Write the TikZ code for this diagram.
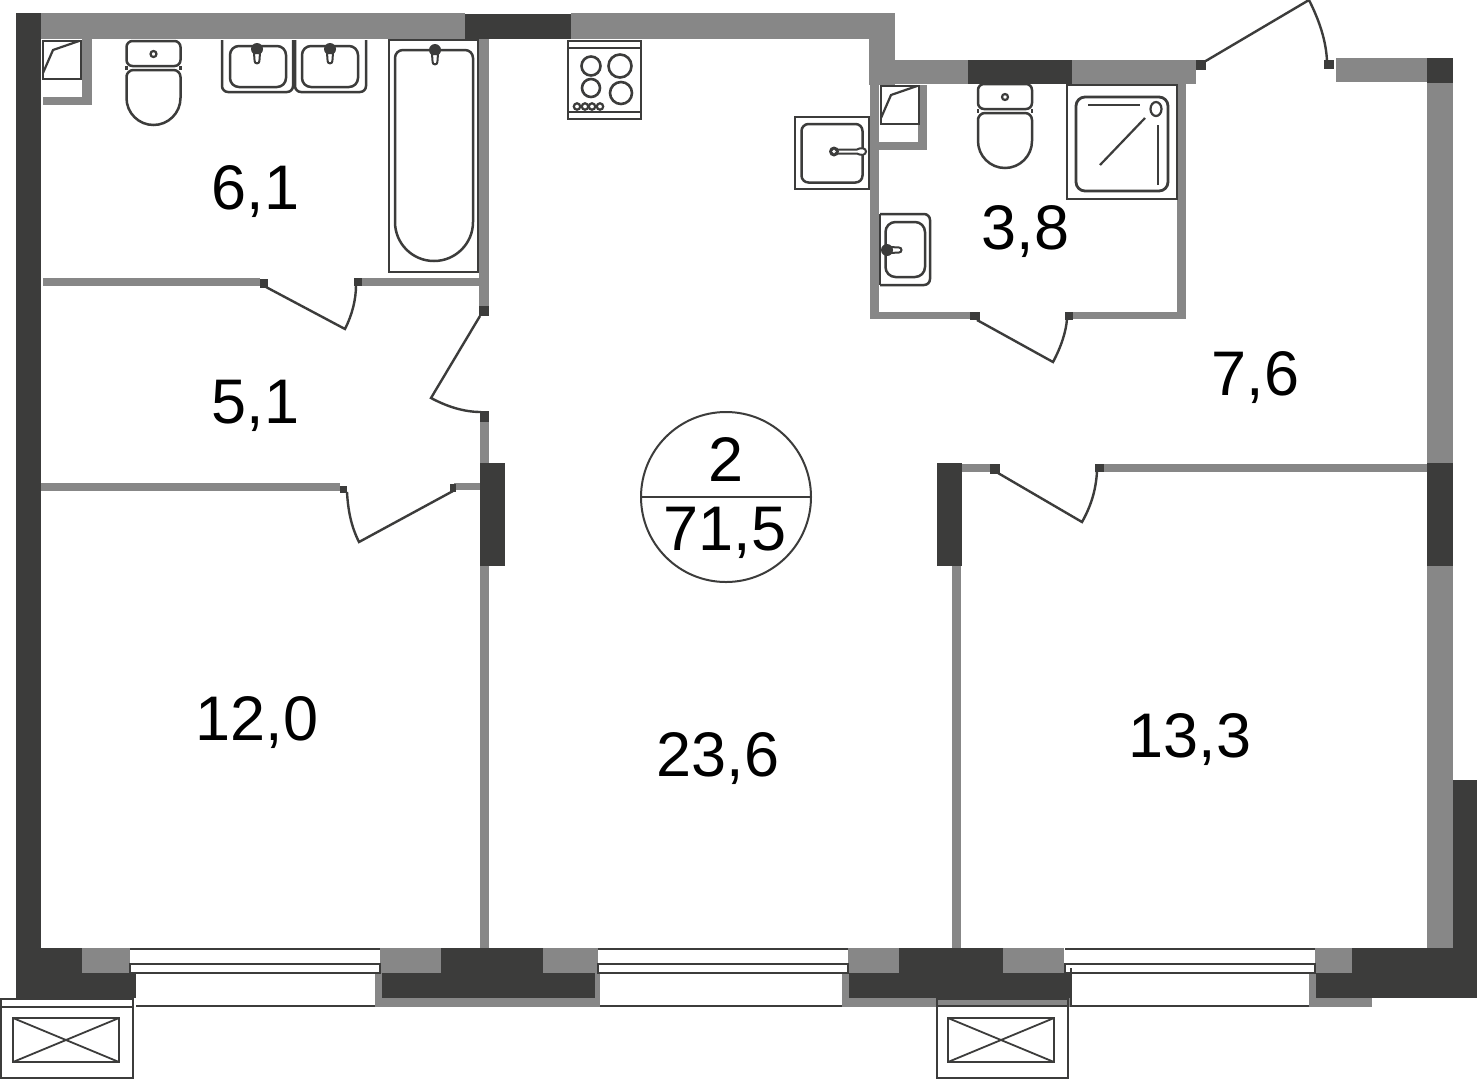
\documentclass[tikz,border=0pt]{standalone}
\usepackage{fontspec}
\setmainfont{Liberation Sans}
\definecolor{wg}{HTML}{878787}
\definecolor{wd}{HTML}{3C3C3B}
\tikzset{
  gw/.style={fill=wg,draw=none},
  dw/.style={fill=wd,draw=none},
  ln/.style={draw=wd,line width=2.5pt,fill=white,line join=miter},
  thin ln/.style={draw=wd,line width=2.2pt},
  door/.style={draw=wd,line width=2.4pt,fill=none,line join=miter},
  area/.style={font=\fontsize{63}{63}\selectfont,text=black,inner sep=0pt,anchor=base},
  toiletpic/.pic={
    \draw[ln,rounded corners=6pt] (-27,0) rectangle (27,25);
    \draw[ln] (-27,34) [rounded corners=7pt] -- (-27,29) -- (27,29) [sharp corners] -- (27,57) arc[start angle=0,end angle=180,radius=27] -- cycle;
    \draw[thin ln] (-27,25) -- (-27,29) (27,25) -- (27,29);
    \draw[thin ln] (0,13) circle[radius=3];
  },
  tappic/.pic={
    \fill[wd] (0,7) circle[radius=6];
    \draw[draw=wd,line width=2pt,fill=white] (-3,11) -- (-2.4,19) arc[start angle=180,end angle=0,radius=2.4] -- (3,11) -- cycle;
  },
  ventpic/.pic={
    \draw[ln,fill=none,line width=2.2pt] (0,0) rectangle (106,44);
    \draw[thin ln,line width=1.8pt] (0,0) -- (106,44) (0,44) -- (106,0);
  },
  closetpic/.pic={
    \draw[thin ln,fill=white] (0,0) -- (38,0) -- (38,38) -- (0,38) -- cycle;
    \draw[thin ln] (36,0) -- (10,9) -- (0,32);
  },
  windowpic/.pic={
    \draw[draw=wd,line width=2pt] (0,1) -- (250,1);
    \draw[ln,line width=2.2pt] (0,16) rectangle (250,25);
  },
}
\begin{document}
\begin{tikzpicture}[x=1pt,y=-1pt]
\useasboundingbox (0,0) rectangle (1477,1080);
\fill[white] (0,0) rectangle (1477,1080);

% --- exterior and partition walls, gray
\fill[gw] (41,13) rectangle (465,39);
\fill[gw] (571,13) rectangle (895,39);
\fill[gw] (869,13) rectangle (895,85);
\fill[gw] (869,60) rectangle (968,84);
\fill[gw] (1072,60) rectangle (1196,84);
\fill[gw] (870,84) rectangle (879,319);
\fill[gw] (1177,84) rectangle (1186,319);
\fill[gw] (870,312) rectangle (971,319);
\fill[gw] (1073,312) rectangle (1186,319);
\fill[gw] (1336,58) rectangle (1427,82);
\fill[gw] (1427,83) rectangle (1453,463);
\fill[gw] (1427,566) rectangle (1453,948);
\fill[gw] (479,39) rectangle (489,306);
\fill[gw] (480,421) rectangle (489,463);
\fill[gw] (480,566) rectangle (489,948);
\fill[gw] (43,278) rectangle (260,286);
\fill[gw] (362,278) rectangle (481,286);
\fill[gw] (41,483) rectangle (340,491);
\fill[gw] (454,483) rectangle (480,490);
\fill[gw] (962,464) rectangle (990,472);
\fill[gw] (1104,464) rectangle (1427,472);
\fill[gw] (952,566) rectangle (961,948);
% closets
\fill[gw] (82,39) rectangle (92,105);
\fill[gw] (43,97) rectangle (92,105);
\fill[gw] (918,85) rectangle (927,150);
\fill[gw] (879,142) rectangle (927,150);
% lower gray blocks
\fill[gw] (375,973) rectangle (600,1007);
\fill[gw] (842,973) rectangle (1072,1007);
\fill[gw] (1309,973) rectangle (1372,1007);
% gray blocks along the facade
\fill[gw] (82,948) rectangle (130,973);
\fill[gw] (380,948) rectangle (441,973);
\fill[gw] (543,948) rectangle (598,973);
\fill[gw] (848,948) rectangle (899,973);
\fill[gw] (1003,948) rectangle (1064,973);
\fill[gw] (1315,948) rectangle (1352,973);

% --- dark structural walls
\fill[dw] (16,13) rectangle (41,973);
\fill[dw] (465,14) rectangle (571,39);
\fill[dw] (968,60) rectangle (1072,84);
\fill[dw] (1427,58) rectangle (1453,83);
\fill[dw] (1427,463) rectangle (1453,566);
\fill[dw] (1453,780) rectangle (1477,998);
\fill[dw] (480,463) rectangle (505,566);
\fill[dw] (937,463) rectangle (962,566);
\fill[dw] (16,948) rectangle (82,973);
\fill[dw] (16,973) rectangle (136,998);
\fill[dw] (441,948) rectangle (543,973);
\fill[dw] (382,973) rectangle (595,998);
\fill[dw] (899,948) rectangle (1003,973);
\fill[dw] (849,973) rectangle (1071,998);
\fill[dw] (1352,948) rectangle (1453,973);
\fill[dw] (1316,973) rectangle (1477,998);

% --- windows
\pic at (130,948) {windowpic};
\pic at (598,948) {windowpic};
\pic at (1065,948) {windowpic};
\draw[draw=wd,line width=2pt] (136,1006) -- (375,1006);
\draw[draw=wd,line width=2pt] (600,1006) -- (842,1006);
\draw[draw=wd,line width=2pt] (1072,1006) -- (1309,1006);
\draw[draw=wd,line width=1.2pt] (1071,968) -- (1071,1007);

% --- balcony units
\draw[ln,fill=none,line width=1.8pt] (1,999) rectangle (133,1078);
\draw[draw=wd,line width=2pt] (1,1007) -- (133,1007);
\pic at (13,1018) {ventpic};
\draw[ln,fill=none,line width=1.8pt] (937,999) rectangle (1068,1078);
\draw[draw=wd,line width=2pt] (937,1006) -- (1068,1006);
\pic at (948,1018) {ventpic};

% --- doors
\fill[dw] (260,279) rectangle (268,288);
\fill[dw] (354,278) rectangle (362,286);
\draw[door] (266,287) -- (345,329) .. controls (352,315) and (356,300) .. (356,285);
\fill[dw] (479,306) rectangle (489,316);
\fill[dw] (480,411) rectangle (489,422);
\draw[door] (480,316) -- (431,398) .. controls (446,406) and (463,412) .. (481,412);
\fill[dw] (340,486) rectangle (347,493);
\fill[dw] (450,484) rectangle (456,492);
\draw[door] (347,492) .. controls (348,510) and (351,526) .. (359,542) -- (453,491);
\fill[dw] (990,464) rectangle (1000,474);
\fill[dw] (1095,464) rectangle (1104,472);
\draw[door] (998,473) -- (1082,522) .. controls (1091,506) and (1096,490) .. (1097,471);
\fill[dw] (970,312) rectangle (980,320);
\fill[dw] (1065,312) rectangle (1073,320);
\draw[door] (977,320) -- (1053,362) .. controls (1061,347) and (1066,332) .. (1067,319);
\fill[dw] (1196,60) rectangle (1206,70);
\fill[dw] (1324,60) rectangle (1334,69);
\draw[door] (1204,62) -- (1309,0) .. controls (1319,20) and (1326,40) .. (1327,61);

% --- bathroom fixtures, left
\pic at (43,41) {closetpic};
\pic at (153.5,41) {toiletpic};
\draw[ln,rounded corners=6pt] (222,40) -- (222,92) -- (293,92) -- (293,40);
\draw[ln,rounded corners=9pt] (230,46) rectangle (286,87);
\pic at (257,42) {tappic};
\draw[ln,rounded corners=6pt] (295,40) -- (295,92) -- (366,92) -- (366,40);
\draw[ln,rounded corners=9pt] (302,46) rectangle (358,87);
\pic at (330,42) {tappic};
\draw[ln] (389,40) rectangle (478,272);
\draw[ln] (395,60) [rounded corners=8pt] -- (395,50) -- (473,50) [sharp corners] -- (473,222) arc[start angle=0,end angle=180,radius=39] -- cycle;
\pic at (435,43) {tappic};

% --- stove
\draw[ln] (568,41) rectangle (641,119);
\draw[thin ln] (568,48) -- (641,48);
\draw[thin ln] (568,112) -- (641,112);
\draw[thin ln,line width=2.6pt] (591,66) circle[radius=9.5];
\draw[thin ln,line width=2.6pt] (620,66) circle[radius=11.5];
\draw[thin ln,line width=2.6pt] (591,88) circle[radius=9];
\draw[thin ln,line width=2.6pt] (621,93) circle[radius=11];
\foreach \cx in {577,585,592,600} {\draw[thin ln,fill=white] (\cx,106.5) circle[radius=3.2];}

% --- bathroom fixtures, right
\pic at (881,86) {closetpic};
\draw[ln] (795,117) rectangle (869,189);
\draw[ln,rounded corners=7pt] (801.5,124) rectangle (862.5,182.5);
\draw[draw=wd,line width=2pt,fill=white] (836,149.5) -- (857,149.5) .. controls (861,147) and (866,148) .. (866,151.5) .. controls (866,155) and (861,156) .. (857,153.5) -- (836,153.5) -- cycle;
\fill[wd] (834,151.5) circle[radius=5];
\draw[draw=white,line width=1pt,fill=none] (834,151.5) circle[radius=1.2];
\pic at (1005,84) {toiletpic};
\draw[ln,line width=2.8pt] (1067,85) rectangle (1177,199);
\draw[ln,line width=2.8pt,rounded corners=9pt] (1076,97) rectangle (1168,191);
\draw[thin ln] (1088,105) -- (1140,105);
\draw[thin ln] (1100,165) -- (1145,118);
\draw[thin ln] (1158,125) -- (1158,185);
\draw[thin ln] (1156,109) circle[x radius=5.5,y radius=7];
\draw[ln,rounded corners=6pt] (880,214) -- (930,214) -- (930,285) -- (880,285);
\draw[thin ln] (880,214) -- (880,285);
\draw[ln,rounded corners=10pt] (885.5,222) rectangle (925,277);
\draw[draw=wd,line width=2pt,fill=white] (890,247) -- (899,247.5) arc[start angle=-90,end angle=90,radius=2.5] -- (890,253) -- cycle;
\fill[wd] (887,250) circle[radius=6];

% --- badge
\draw[draw=wd,line width=2pt] (726,497) circle[radius=85];
\coordinate (badgeL) at (642,497);
\coordinate (badgeR) at (811,497);
\draw[draw=wd,line width=2pt] (badgeL) -- (badgeR);
\node[area] (total) at (726,481) {2};
\node[area] (areaall) at (725,550) {71,5};

% --- room areas
\node[area] (r1) at (255.5,209) {6,1};
\node[area] (r2) at (255.5,423) {5,1};
\node[area] (r3) at (257,740) {12,0};
\node[area] (r4) at (718,776) {23,6};
\node[area] (r5) at (1190,757) {13,3};
\node[area] (r6) at (1025.5,249) {3,8};
\node[area] (r7) at (1255.5,395) {7,6};
\end{tikzpicture}
\end{document}
